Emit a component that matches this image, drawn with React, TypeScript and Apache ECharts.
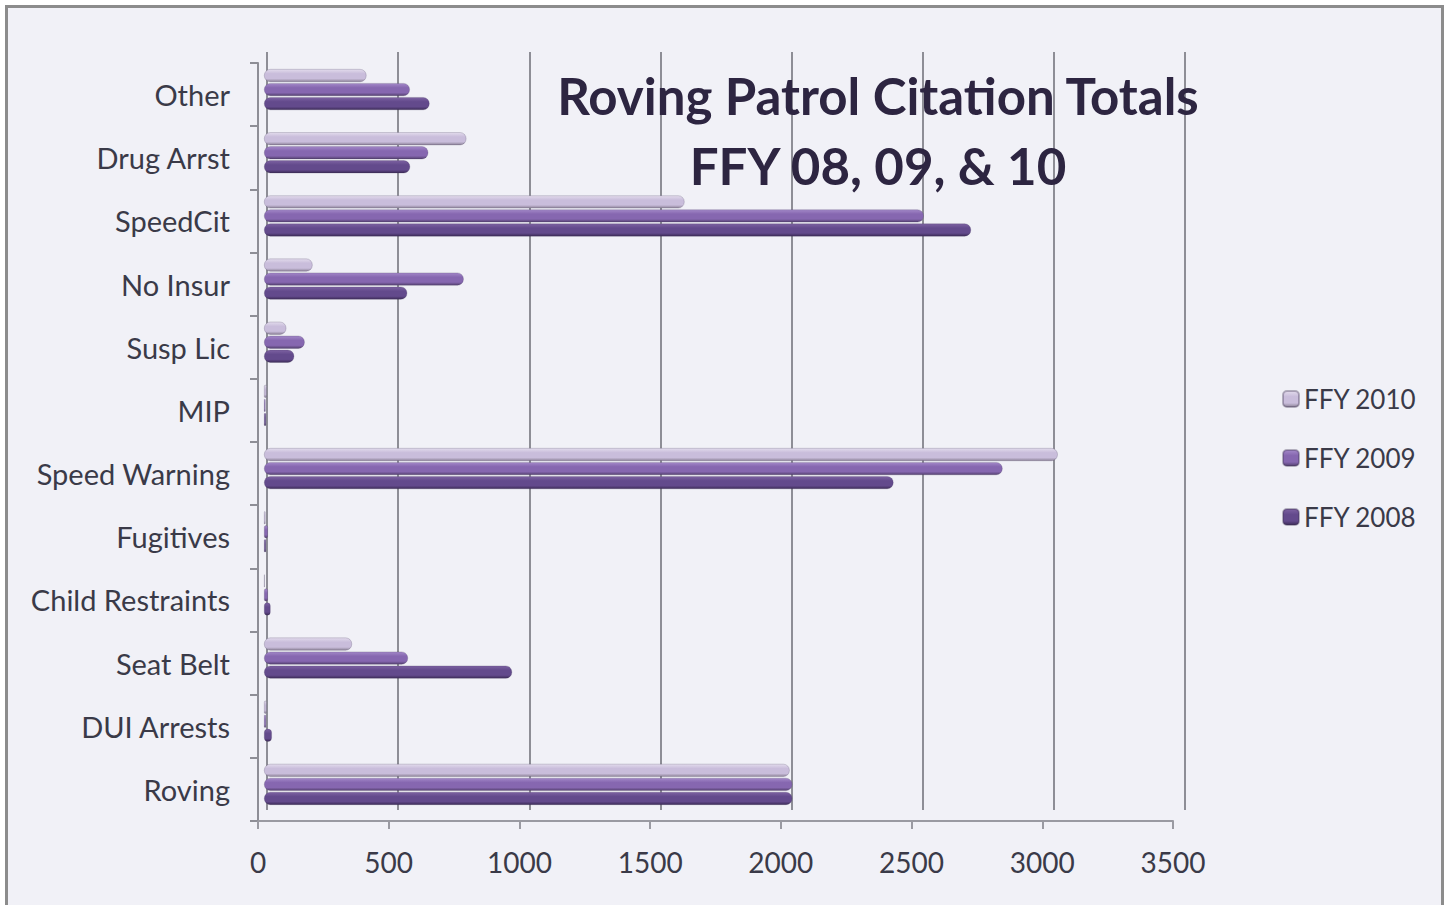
import React, { useEffect, useRef } from "react";
import * as echarts from "echarts";

const categories = [
  "Roving",
  "DUI Arrests",
  "Seat Belt",
  "Child Restraints",
  "Fugitives",
  "Speed Warning",
  "MIP",
  "Susp Lic",
  "No Insur",
  "SpeedCit",
  "Drug Arrst",
  "Other",
];

const ffy2010 = [2000, 10, 335, 3, 6, 3020, 10, 85, 185, 1600, 770, 390];
const ffy2009 = [2010, 8, 548, 15, 15, 2810, 6, 155, 760, 2510, 625, 555];
const ffy2008 = [2010, 30, 944, 25, 8, 2395, 8, 115, 545, 2690, 556, 630];

const xTicks = [0, 500, 1000, 1500, 2000, 2500, 3000, 3500];

const seriesNames = ["FFY 2010", "FFY 2009", "FFY 2008"];

const titleLines = ["Roving Patrol Citation Totals", "FFY 08, 09, & 10"];

const FONT = "Lato";

function grad(top: string, mid: string, bottom: string) {
  return new echarts.graphic.LinearGradient(0, 0, 0, 1, [
    { offset: 0, color: top },
    { offset: 0.35, color: mid },
    { offset: 0.75, color: mid },
    { offset: 1, color: bottom },
  ]);
}

export default function App() {
  const ref = useRef<HTMLDivElement>(null);
  useEffect(() => {
    if (!ref.current) return;
    const chart = echarts.init(ref.current, undefined, { renderer: "svg" });
    const xMin = xTicks[0];
    const xMax = xTicks[xTicks.length - 1];
    const step = xTicks[1] - xTicks[0];
    const colors = [
      grad("#e2dbec", "#c9bddb", "#8d8398"),
      grad("#a388c8", "#8667b0", "#54406f"),
      grad("#7d62a2", "#634a8c", "#3c2b57"),
    ];
    const dataSets = [ffy2010, ffy2009, ffy2008];
    chart.setOption({
      animation: false,
      backgroundColor: "#ffffff",
      graphic: [
        {
          type: "rect",
          z: -10,
          silent: true,
          shape: { x: 6.5, y: 6.5, width: 1436, height: 930 },
          style: { fill: "#f1f1f7", stroke: "#8c8c8c", lineWidth: 3 },
        },
        ...titleLines.map((t, i) => ({
          type: "text",
          z: 10,
          style: {
            text: t,
            x: 878,
            y: 95 + i * 70,
            align: "center",
            verticalAlign: "middle",
            fontFamily: FONT,
            fontWeight: "bold",
            fontSize: 51,
            fill: "#2d2541",
          },
        })),
      ],
      legend: {
        orient: "vertical",
        left: 1277,
        top: 381,
        itemWidth: 16,
        itemHeight: 16,
        itemGap: 33,
        data: seriesNames,
        textStyle: { fontFamily: FONT, fontSize: 26, color: "#3a3a48" },
      },
      grid: [
        { left: 267, right: 264, top: 52, bottom: 95 },
        { left: 258, right: 276, top: 63, bottom: 84 },
        { left: 264, right: 265, top: 58, bottom: 89 },
      ],
      xAxis: [
        {
          gridIndex: 0,
          type: "value",
          min: xMin,
          max: xMax,
          interval: step,
          axisLabel: { show: false },
          axisLine: { show: false },
          axisTick: { show: false },
          splitLine: { show: true, lineStyle: { color: "#8e8e96", width: 2 } },
        },
        {
          gridIndex: 1,
          type: "value",
          min: xMin,
          max: xMax,
          interval: step,
          axisLine: { show: true, lineStyle: { color: "#9a9aa2", width: 2 } },
          axisTick: { show: true, length: 8, lineStyle: { color: "#9a9aa2", width: 2 } },
          splitLine: { show: false },
          axisLabel: {
            margin: 27,
            fontFamily: FONT,
            fontSize: 28,
            color: "#3a3a48",
            formatter: (v: number) => String(v),
          },
        },
        {
          gridIndex: 2,
          type: "value",
          min: xMin,
          max: xMax,
          interval: step,
          show: false,
          splitLine: { show: false },
        },
      ],
      yAxis: [
        {
          gridIndex: 0,
          type: "category",
          data: categories,
          axisLabel: { show: false },
          axisTick: { show: false },
          axisLine: { show: false },
        },
        {
          gridIndex: 1,
          type: "category",
          data: categories,
          axisLine: { show: true, lineStyle: { color: "#8e8e96", width: 2 } },
          axisTick: { show: true, length: 8, lineStyle: { color: "#8e8e96", width: 2 } },
          axisLabel: {
            margin: 28,
            fontFamily: FONT,
            fontSize: 29,
            color: "#3a3a48",
          },
        },
        {
          gridIndex: 2,
          type: "category",
          data: categories,
          show: false,
        },
      ],
      series: seriesNames.map((name, i) => ({
        name,
        type: "bar",
        xAxisIndex: 2,
        yAxisIndex: 2,
        data: dataSets[i],
        barWidth: 13,
        barGap: "8%",
        itemStyle: {
          color: colors[i],
          borderRadius: 6,
          borderColor: "rgba(60,50,80,0.35)",
          borderWidth: 0.6,
        },
      })),
    });
    return () => chart.dispose();
  }, []);
  return (
    <div
      ref={ref}
      style={{ position: "fixed", left: 0, top: 0, width: 1449, height: 905 }}
    />
  );
}
